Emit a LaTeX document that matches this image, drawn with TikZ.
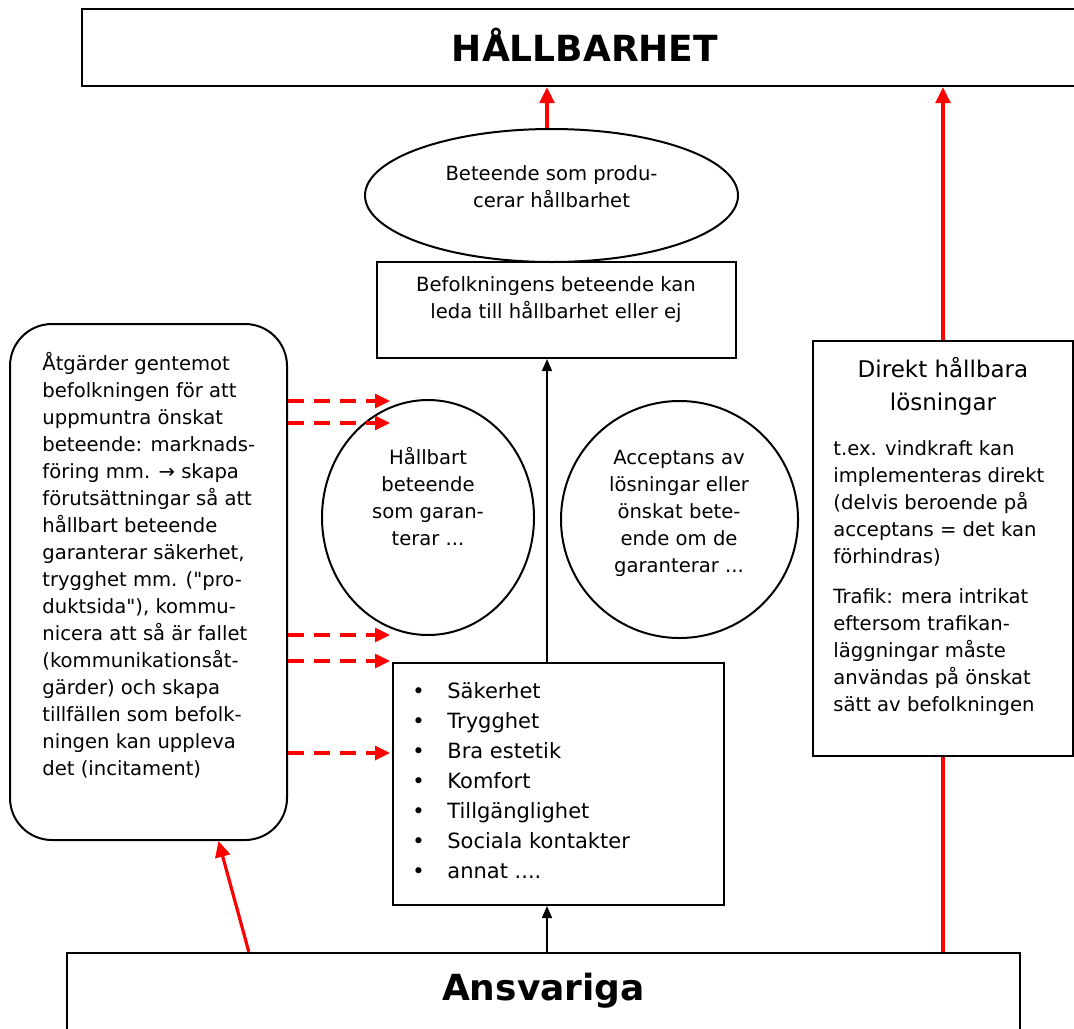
\documentclass[tikz,border=0pt]{standalone}
\usepackage{fontspec}
\setmainfont{DejaVu Sans}
\usetikzlibrary{arrows.meta,calc,shapes.geometric}
\newcommand{\blt}{\makebox[17.5pt][l]{\textbullet}}

\begin{document}
\begin{tikzpicture}[
    x=0.5pt, y=-0.5pt,
    font=\fontsize{9.8}{13.5}\selectfont,
    boxline/.style={draw, line width=1pt, inner sep=0pt},
    ctxt/.style={align=center, inner sep=0pt},
    ltxt/.style={align=left, inner sep=0pt, anchor=west},
    headtxt/.style={inner sep=0pt, font=\fontsize{18}{22}\selectfont\bfseries},
    redarr/.style={draw=red, line width=1.6pt, -{Triangle[length=8pt,width=7.5pt]}},
    redline/.style={draw=red, line width=1.6pt},
    dasharr/.style={draw=red, line width=1.6pt, dash pattern=on 8pt off 5pt, -{Triangle[length=7.5pt,width=7pt]}},
    blkarr/.style={draw, line width=0.8pt, -{Triangle[length=6pt,width=5pt]}},
  ]
  \useasboundingbox (0,0) rectangle (1074,1028);

  % top and bottom bars
  \node[boxline, line width=1.2pt, minimum width=503pt, minimum height=38.5pt] (hall) at (585,47.5) {};
  \node[headtxt] (halltxt) at (585,45) {HÅLLBARHET};
  \node[boxline, line width=1.2pt, minimum width=476.5pt, minimum height=40pt] (ansv) at (543.5,993) {};
  \node[headtxt] (ansvtxt) at (543.5,991) {Ansvariga};

  % middle column
  \node[boxline, ellipse, minimum width=186.5pt, minimum height=66.5pt] (prod) at (551.5,195.5) {};
  \node[ctxt] (prodtxt) at (551.5,187) {Beteende som produ-\\cerar hållbarhet};
  \node[boxline, minimum width=179.5pt, minimum height=48pt] (bef) at (556.5,310) {};
  \node[ctxt] (beftxt) at (556,300) {Befolkningens beteende kan\\leda till hållbarhet eller ej};
  \node[boxline, ellipse, minimum width=106pt, minimum height=117.5pt] (hb) at (428,517.5) {};
  \node[ctxt] (hbtxt) at (428,497) {Hållbart\\beteende\\som garan-\\terar ...};
  \node[boxline, ellipse, minimum width=118.5pt, minimum height=118.5pt] (acc) at (679.5,519.5) {};
  \node[ctxt] (acctxt) at (679,513) {Acceptans av\\lösningar eller\\önskat bete-\\ende om de\\garanterar ...};
  \node[boxline, minimum width=165.5pt, minimum height=121pt] (lst) at (558.5,784) {};
  \node[ltxt, font=\fontsize{10.5}{15}\selectfont] (lsttxt) at (412,781)
    {\blt Säkerhet\\\blt Trygghet\\\blt Bra estetik\\\blt Komfort\\\blt Tillgänglighet\\\blt Sociala kontakter\\\blt annat ....};

  % left: measures
  \node[boxline, rounded corners=21pt, minimum width=138.5pt, minimum height=258pt] (atg) at (148.5,582) {};
  \node[ltxt] (atgtxt) at (42,565) {Åtgärder gentemot\\befolkningen för att\\uppmuntra önskat\\beteende: marknads-\\föring mm. → skapa\\förutsättningar så att\\hållbart beteende\\garanterar säkerhet,\\trygghet mm. (\textquotedbl pro-\\duktsida\textquotedbl), kommu-\\nicera att så är fallet\\(kommunikationsåt-\\gärder) och skapa\\tillfällen som befolk-\\ningen kan uppleva\\det (incitament)};

  % right: direct solutions
  \node[boxline, minimum width=130pt, minimum height=207.5pt] (dir) at (943,548.5) {};
  \node[ctxt, font=\fontsize{11.5}{16.5}\selectfont] (dirtit) at (943,386) {Direkt hållbara\\lösningar};
  \node[ltxt] (dirp1) at (833,503.5) {t.ex. vindkraft kan\\implementeras direkt\\(delvis beroende på\\acceptans = det kan\\förhindras)};
  \node[ltxt] (dirp2) at (833,652) {Trafik: mera intrikat\\eftersom trafikan-\\läggningar måste\\användas på önskat\\sätt av befolkningen};

  \coordinate (mid) at (547,0);
  \draw[redarr] (prod.north -| mid) -- (hall.south -| mid);
  \draw[blkarr] (lst.north -| mid) -- (bef.south -| mid);
  \draw[blkarr] (ansv.north -| mid) -- (lst.south -| mid);
  \draw[redarr] (dir.north) -- (dir.north |- hall.south);
  \draw[redline] (dir.south |- ansv.north) -- (dir.south);
  \draw[redarr] ($(ansv.north west)+(183,0)$) -- ($(atg.south)+(70,0)$);
  \foreach \y in {401,423,635,661,753}
    \draw[dasharr] (atg.east |- 0,\y) -- (390,\y);
\end{tikzpicture}
\end{document}
